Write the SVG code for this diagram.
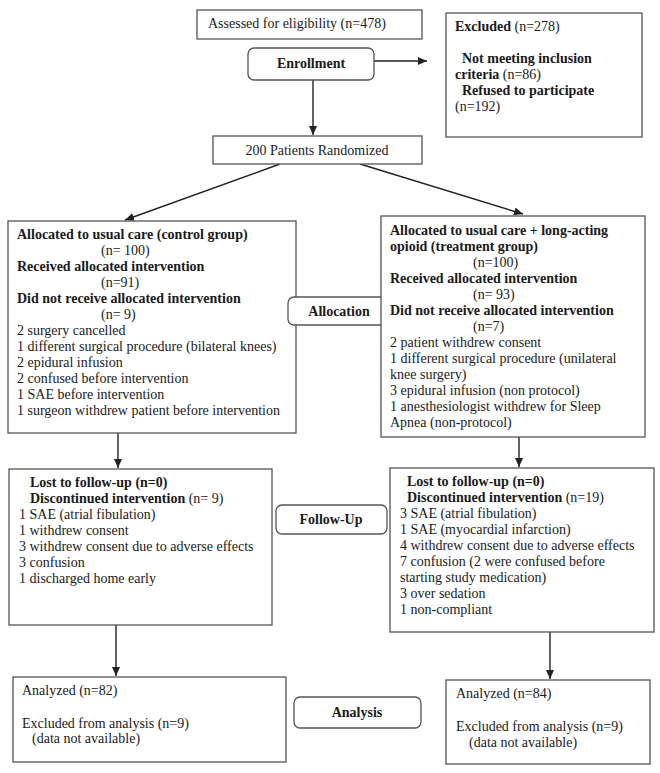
<svg xmlns="http://www.w3.org/2000/svg" width="660" height="773" viewBox="0 0 660 773">
<style>
.box{fill:#fff;stroke:#555;stroke-width:1.3}
.t{font-family:"Liberation Serif","Times New Roman",serif;font-size:14px;fill:#1a1a1a}
.b{font-weight:bold}
.c{text-anchor:middle}
.ln{stroke:#222;stroke-width:1.4;fill:none}
</style>
<defs>
<marker id="ah" markerUnits="userSpaceOnUse" markerWidth="10" markerHeight="10" viewBox="0 0 10 10" refX="9" refY="5" orient="auto">
<path d="M0,1 L9,5 L0,9 Z" fill="#222"/>
</marker>
</defs>
<rect width="660" height="773" fill="#fff"/>

<g id="connectors">
<line class="ln" x1="374" y1="61" x2="427" y2="61" marker-end="url(#ah)"/>
<line class="ln" x1="313" y1="80" x2="313" y2="135" marker-end="url(#ah)"/>
<line class="ln" x1="280" y1="164" x2="125" y2="220" marker-end="url(#ah)"/>
<line class="ln" x1="360" y1="164" x2="523" y2="214" marker-end="url(#ah)"/>
<line class="ln" x1="118" y1="433" x2="118" y2="468" marker-end="url(#ah)"/>
<line class="ln" x1="519" y1="437" x2="519" y2="467" marker-end="url(#ah)"/>
<line class="ln" x1="116" y1="625" x2="116" y2="676" marker-end="url(#ah)"/>
<line class="ln" x1="550" y1="632" x2="550" y2="679" marker-end="url(#ah)"/>
</g>

<g id="assessed">
<rect class="box" x="197" y="10" width="225" height="29"/>
<text class="t" x="208" y="28">Assessed for eligibility (n=478)</text>
</g>

<g id="enrollment">
<rect class="box" x="248" y="48" width="126" height="32" rx="6"/>
<text class="t b c" x="311" y="68">Enrollment</text>
</g>

<g id="excluded">
<rect class="box" x="446" y="13" width="196" height="124"/>
<text class="t" x="455" y="31"><tspan class="b">Excluded</tspan> (n=278)</text>
<text class="t b" x="462" y="63">Not meeting inclusion</text>
<text class="t" x="455" y="79"><tspan class="b">criteria</tspan> (n=86)</text>
<text class="t b" x="462" y="95">Refused to participate</text>
<text class="t" x="455" y="111">(n=192)</text>
</g>

<g id="randomized">
<rect class="box" x="213" y="136" width="209" height="28"/>
<text class="t c" x="317" y="155">200 Patients Randomized</text>
</g>

<g id="alloc-control">
<rect class="box" x="8" y="221" width="288" height="212"/>
<text class="t b" x="17" y="239">Allocated to usual care (control group)</text>
<text class="t" x="101" y="255">(n= 100)</text>
<text class="t b" x="17" y="271">Received allocated intervention</text>
<text class="t" x="101" y="287">(n=91)</text>
<text class="t b" x="17" y="303">Did not receive allocated intervention</text>
<text class="t" x="101" y="319">(n= 9)</text>
<text class="t" x="17" y="335">2 surgery cancelled</text>
<text class="t" x="17" y="351">1 different surgical procedure (bilateral knees)</text>
<text class="t" x="17" y="367">2 epidural infusion</text>
<text class="t" x="17" y="383">2 confused before intervention</text>
<text class="t" x="17" y="399">1 SAE before intervention</text>
<text class="t" x="17" y="415">1 surgeon withdrew patient before intervention</text>
</g>

<g id="allocation">
<rect class="box" x="288" y="297" width="99" height="28" rx="6"/>
<text class="t b c" x="339" y="316">Allocation</text>
</g>

<g id="alloc-treatment">
<rect class="box" x="381" y="216" width="264" height="221"/>
<text class="t b" x="390" y="235">Allocated to usual care + long-acting</text>
<text class="t b" x="390" y="251">opioid (treatment group)</text>
<text class="t" x="473" y="267">(n=100)</text>
<text class="t b" x="390" y="283">Received allocated intervention</text>
<text class="t" x="473" y="299">(n= 93)</text>
<text class="t b" x="390" y="315">Did not receive allocated intervention</text>
<text class="t" x="473" y="331">(n=7)</text>
<text class="t" x="390" y="347">2 patient withdrew consent</text>
<text class="t" x="390" y="363">1 different surgical procedure (unilateral</text>
<text class="t" x="390" y="379">knee surgery)</text>
<text class="t" x="390" y="395">3 epidural infusion (non protocol)</text>
<text class="t" x="390" y="411">1 anesthesiologist withdrew for Sleep</text>
<text class="t" x="390" y="427">Apnea (non-protocol)</text>
</g>

<g id="followup-control">
<rect class="box" x="9" y="469" width="263" height="156"/>
<text class="t b" x="30" y="487">Lost to follow-up (n=0)</text>
<text class="t" x="30" y="503"><tspan class="b">Discontinued intervention</tspan> (n= 9)</text>
<text class="t" x="19" y="519">1 SAE (atrial fibulation)</text>
<text class="t" x="19" y="535">1 withdrew consent</text>
<text class="t" x="19" y="551">3 withdrew consent due to adverse effects</text>
<text class="t" x="19" y="567">3 confusion</text>
<text class="t" x="19" y="583">1 discharged home early</text>
</g>

<g id="followup">
<rect class="box" x="276" y="505" width="111" height="29" rx="6"/>
<text class="t b c" x="331" y="524">Follow-Up</text>
</g>

<g id="followup-treatment">
<rect class="box" x="390" y="468" width="264" height="164"/>
<text class="t b" x="407" y="486">Lost to follow-up (n=0)</text>
<text class="t" x="407" y="502"><tspan class="b">Discontinued intervention</tspan> (n=19)</text>
<text class="t" x="400" y="518">3 SAE (atrial fibulation)</text>
<text class="t" x="400" y="534">1 SAE (myocardial infarction)</text>
<text class="t" x="400" y="550">4 withdrew consent due to adverse effects</text>
<text class="t" x="400" y="566">7 confusion (2 were confused before</text>
<text class="t" x="400" y="582">starting study medication)</text>
<text class="t" x="400" y="598">3 over sedation</text>
<text class="t" x="400" y="614">1 non-compliant</text>
</g>

<g id="analysis-control">
<rect class="box" x="13" y="677" width="273" height="85"/>
<text class="t" x="22" y="695">Analyzed (n=82)</text>
<text class="t" x="22" y="728">Excluded from analysis (n=9)</text>
<text class="t" x="32" y="743">(data not available)</text>
</g>

<g id="analysis">
<rect class="box" x="294" y="697" width="127" height="31" rx="6"/>
<text class="t b c" x="357" y="717">Analysis</text>
</g>

<g id="analysis-treatment">
<rect class="box" x="446" y="680" width="204" height="84"/>
<text class="t" x="456" y="698">Analyzed (n=84)</text>
<text class="t" x="456" y="731">Excluded from analysis (n=9)</text>
<text class="t" x="469" y="747">(data not available)</text>
</g>
</svg>
